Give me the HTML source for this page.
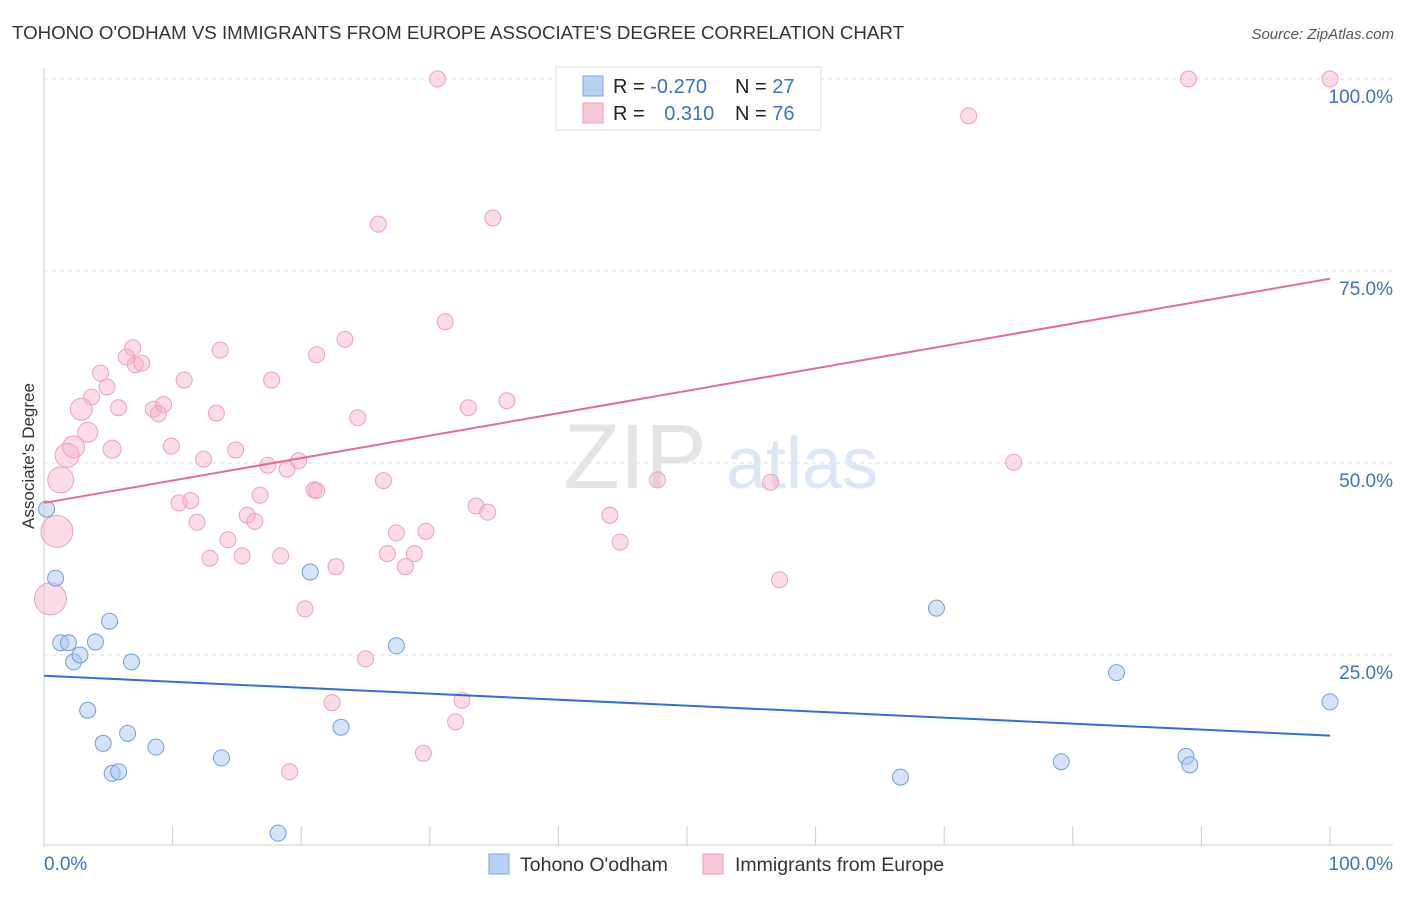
<!DOCTYPE html>
<html><head><meta charset="utf-8">
<style>
body{margin:0;background:#fff;font-family:"Liberation Sans",sans-serif;}
svg text{font-family:"Liberation Sans",sans-serif;}
</style></head>
<body>
<svg id="chart" width="1406" height="892" xmlns="http://www.w3.org/2000/svg">
<text x="12" y="39" font-size="18" fill="#333" textLength="892" lengthAdjust="spacingAndGlyphs">TOHONO O'ODHAM VS IMMIGRANTS FROM EUROPE ASSOCIATE'S DEGREE CORRELATION CHART</text>
<text x="1394" y="39" font-size="15" fill="#555" font-style="italic" text-anchor="end">Source: ZipAtlas.com</text>
<text transform="translate(34,456) rotate(-90)" font-size="17" fill="#333" text-anchor="middle">Associate's Degree</text>
<g id="grid"></g>
<g>
<text x="635" y="488" font-size="92" fill="#e4e4e4" font-family="Liberation Serif" text-anchor="middle">ZIP</text>
<text x="802" y="488" font-size="72" fill="#dbe6f6" text-anchor="middle">atlas</text>
</g>
<g id="pts"></g>
<g id="lines"></g>
<g>
<rect x="556" y="67" width="265" height="63" fill="#fff" stroke="#ddd"/>
<rect x="583" y="76" width="20" height="20" fill="#b7d1f3" stroke="#7aa6e6"/>
<rect x="583" y="103" width="20" height="20" fill="#f9c6d5" stroke="#ef9ab6"/>
<text x="613" y="93" font-size="20" fill="#222">R = <tspan fill="#3a70d0">-0.270</tspan></text>
<text x="735" y="93" font-size="20" fill="#222">N = <tspan fill="#3a70d0">27</tspan></text>
<text x="613" y="120" font-size="20" fill="#222">R = <tspan fill="#3a70d0" dx="14">0.310</tspan></text>
<text x="735" y="120" font-size="20" fill="#222">N = <tspan fill="#3a70d0">76</tspan></text>
</g>
<g>
<rect x="489" y="854" width="20" height="20" fill="#b7d1f3" stroke="#7aa6e6"/>
<text x="520" y="871" font-size="19.5" fill="#333">Tohono O'odham</text>
<rect x="703" y="854" width="20" height="20" fill="#f9c6d5" stroke="#ef9ab6"/>
<text x="735" y="871" font-size="19.5" fill="#333">Immigrants from Europe</text>
</g>
</svg>
<script>
const yTicks=[100,75,50,25];
const yTickLabels=["100.0%","75.0%","50.0%","25.0%"];
const xTicks=[0,10,20,30,40,50,60,70,80,90,100];
const blueX=[0.2,0.9,1.3,1.9,2.3,2.8,4.0,5.1,3.4,4.6,6.5,6.8,5.3,5.8,8.7,13.8,18.2,20.7,23.1,27.4,69.4,66.6,83.4,79.1,88.8,89.1,100];
const blueY=[44.0,35.0,26.6,26.6,24.1,25.0,26.7,29.4,17.8,13.5,14.8,24.1,9.6,9.8,13.0,11.6,1.8,35.8,15.6,26.2,31.1,9.1,22.7,11.1,11.8,10.7,18.9];
const pinkX=[30.6,89.0,100,49.8,71.9,26.0,34.9,31.2,23.4,21.2,13.7,6.9,6.4,7.1,7.6,4.4,10.9,17.7,4.9,3.7,2.9,5.8,8.5,9.3,8.9,13.4,24.4,33.0,36.0,3.4,2.3,1.8,5.3,9.9,14.9,12.4,17.4,18.9,19.8,75.4,1.3,26.4,47.7,56.5,16.8,21.0,21.2,11.4,10.5,33.6,34.5,44.0,15.8,16.4,11.9,1.0,14.3,27.4,29.7,44.8,12.9,15.4,18.4,26.7,28.8,28.1,22.7,57.2,0.5,20.3,25.0,32.5,22.4,32.0,29.5,19.1];
const pinkY=[100,100,100,100,95.2,81.1,81.9,68.4,66.1,64.1,64.7,65.0,63.8,62.8,63.0,61.7,60.8,60.8,59.9,58.6,57.0,57.2,57.0,57.6,56.4,56.5,55.9,57.2,58.1,54.0,52.1,51.0,51.8,52.2,51.7,50.5,49.7,49.2,50.3,50.1,47.8,47.7,47.8,47.5,45.8,46.5,46.4,45.1,44.8,44.4,43.6,43.2,43.2,42.4,42.3,41.1,40.0,40.9,41.1,39.7,37.6,37.9,37.9,38.2,38.2,36.5,36.5,34.8,32.3,31.0,24.5,19.1,18.8,16.3,12.2,9.8];
const pinkR=[8,8,8,8,8,8,8,8,8,8,8,8,8,8,8,8,8,8,8,8,11,8,8,8,8,8,8,8,8,10,11,12,9,8,8,8,8,8,8,8,13,8,8,8,8,8,8,8,8,8,8,8,8,8,8,16,8,8,8,8,8,8,8,8,8,8,8,8,16,8,8,8,8,8,8,8];
const blueTrend=[22.3,14.5];
const pinkTrend=[44.8,74.0];
const NS="http://www.w3.org/2000/svg";
const X0=44,X1=1330,Y0=847,Y100=79;
const sx=v=>X0+(X1-X0)*v/100, sy=v=>Y0-(Y0-Y100)*v/100;
function mk(t,a,p){const e=document.createElementNS(NS,t);for(const k in a)e.setAttribute(k,a[k]);p.appendChild(e);return e;}
const svg=document.getElementById('chart');
const grid=document.getElementById('grid');
yTicks.forEach((v,i)=>{
 const l=mk('line',{x1:X0,x2:1393,y1:sy(v),y2:sy(v),stroke:'#ddd','stroke-dasharray':'4,4'},grid);
 
 
 const t=mk('text',{x:1393,y:sy(v)+24,'font-size':19,fill:'#3a70d0','text-anchor':'end'},grid);
 t.textContent=yTickLabels[i];
 
 
});
const ax=mk('line',{x1:X0,x2:X0,y1:68,y2:847,stroke:'#ccc'},grid);


const bx=mk('line',{x1:X0,x2:1393,y1:845,y2:845,stroke:'#ccc'},grid);


xTicks.forEach(v=>{
 const l=mk('line',{x1:sx(v),x2:sx(v),y1:826,y2:845,stroke:'#ccc'},grid);
 
 
});
const xl0=mk('text',{x:44,y:870,'font-size':19,fill:'#3a70d0'},grid);xl0.textContent='0.0%';


const xl1=mk('text',{x:1393,y:870,'font-size':19,fill:'#3a70d0','text-anchor':'end'},grid);xl1.textContent='100.0%';


const pts=document.getElementById('pts');
pinkX.forEach((v,i)=>{
 const c=mk('circle',{cx:sx(v),cy:sy(pinkY[i]),r:pinkR[i],fill:'rgba(246,176,198,0.45)',stroke:'#f0a0ba','stroke-width':1},pts);
 
 
});
blueX.forEach((v,i)=>{
 const c=mk('circle',{cx:sx(v),cy:sy(blueY[i]),r:8,fill:'rgba(169,200,240,0.5)',stroke:'#6f9fe0','stroke-width':1},pts);
 
 
});
const lines=document.getElementById('lines');
const bl=mk('line',{x1:sx(0),y1:sy(blueTrend[0]),x2:sx(100),y2:sy(blueTrend[1]),stroke:'#2f6fd6','stroke-width':2},lines);


const pl=mk('line',{x1:sx(0),y1:sy(pinkTrend[0]),x2:sx(100),y2:sy(pinkTrend[1]),stroke:'#e8689a','stroke-width':2},lines);


</script>
</body></html>
